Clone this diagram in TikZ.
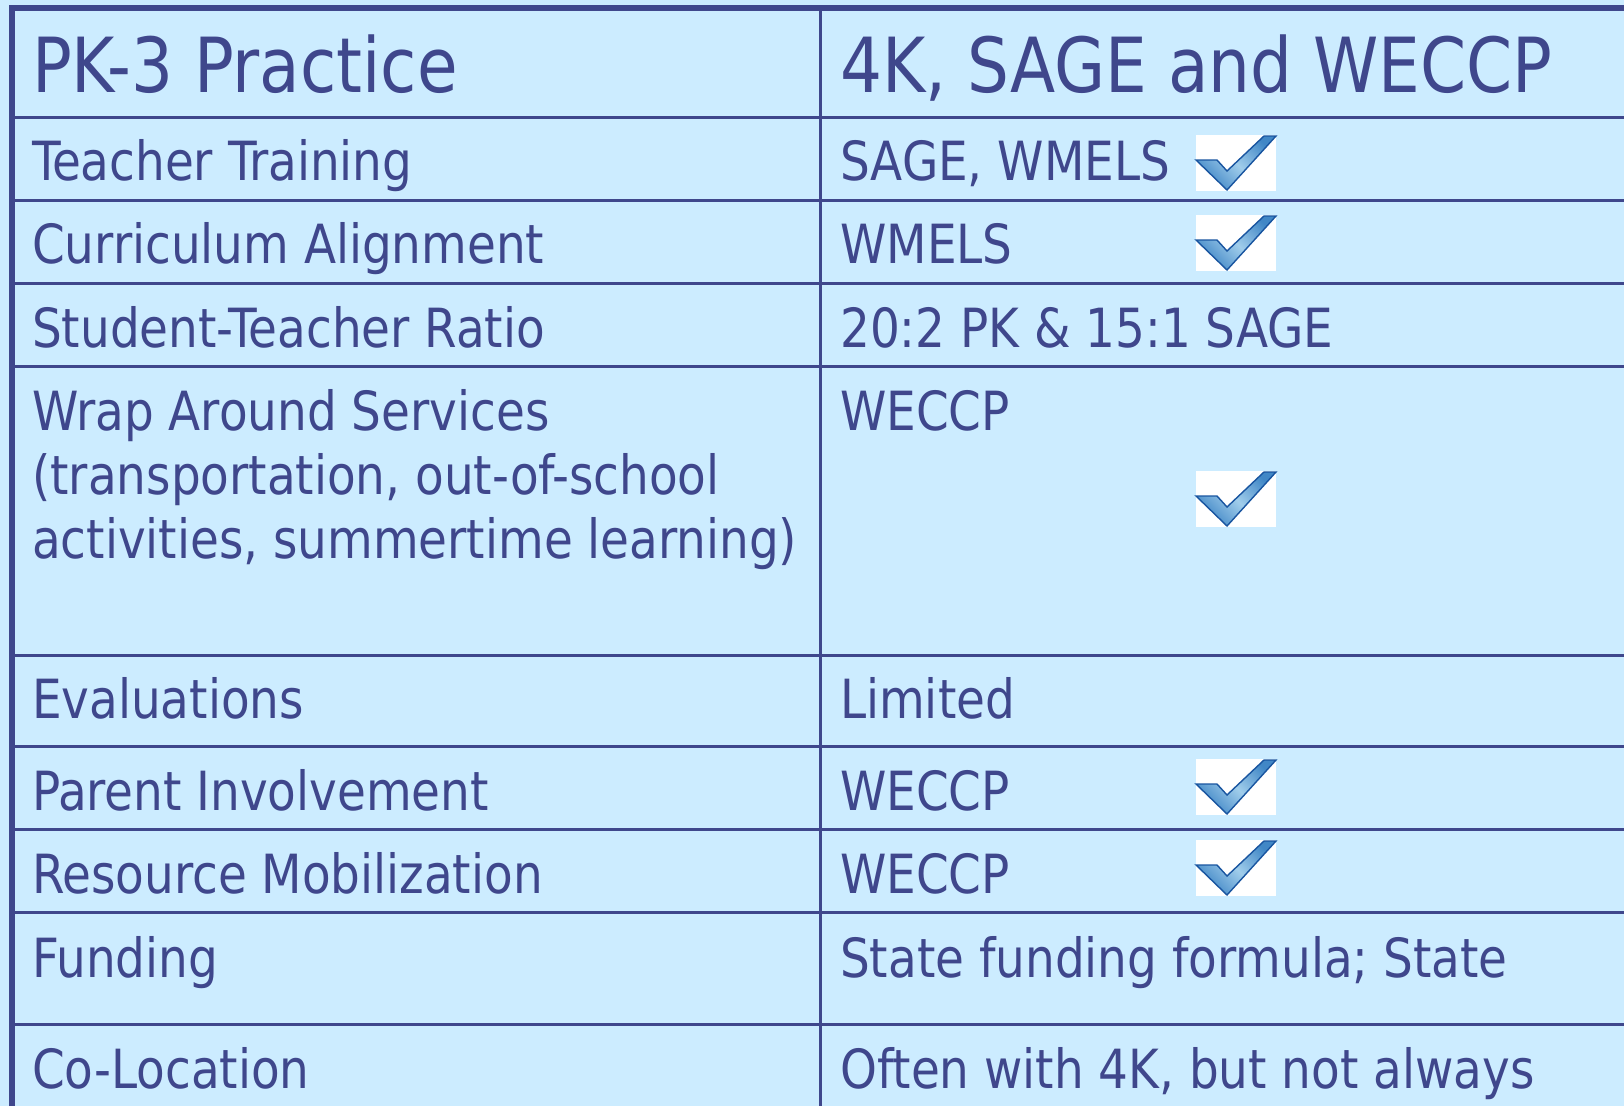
\documentclass[tikz,border=0pt]{standalone}
\usepackage{fontspec}
\setmainfont[FakeStretch=0.965]{DejaVu Sans Condensed}
\definecolor{bgblue}{RGB}{204,236,255}
\definecolor{ink}{RGB}{63,71,140}
\definecolor{chkdark}{RGB}{25,85,160}
\definecolor{chklight}{RGB}{160,205,235}
\definecolor{chkmid}{RGB}{65,135,198}
\tikzset{
  x=1pt,y=-1pt,
  cell/.style={anchor=base west,inner sep=0pt,text=ink,font=\fontsize{54}{64}\selectfont},
  head/.style={anchor=base west,inner sep=0pt,text=ink,font=\fontsize{76}{90}\selectfont},
  rule/.style={draw=ink,line width=3pt},
  frame/.style={draw=ink,line width=5.5pt},
  chk/.pic={
    \fill[white] (0,0) rectangle (80,56);
    \draw[draw=chkdark,line width=1.4pt,line join=miter,left color=chkmid,right color=chkmid,middle color=chklight,shading angle=135]
      (0,25) -- (21,25) -- (31,36) -- (68,1) -- (80,1) -- (31,55) -- cycle;
  }
}
\begin{document}
\begin{tikzpicture}
\useasboundingbox (0,0) rectangle (1624,1106);
\fill[bgblue] (0,0) rectangle (1624,1106);
% grid
\coordinate (tl) at (12,8);
\coordinate (tr) at (1624,8);
\coordinate (bl) at (12,1106);
\foreach \yy in {117,200,283,366,655,746,829,912,1024}
  \draw[rule] (12,\yy) -- (1624,\yy);
\draw[rule] (820,8) -- (820,1106);
\draw[frame] (bl) -- (tl) -- (tr);
% header
\node[head] (h1) at (32,92) {PK-3 Practice};
\node[head] (h2) at (840,92) {4K, SAGE and WECCP};
% left column
\node[cell] (l1) at (32,180) {Teacher Training};
\node[cell] (l2) at (32,263) {Curriculum Alignment};
\node[cell] (l3) at (32,347) {Student-Teacher Ratio};
\node[cell] (l4a) at (32,430) {Wrap Around Services};
\node[cell] (l4b) at (32,494) {(transportation, out-of-school};
\node[cell] (l4c) at (32,558) {activities, summertime learning)};
\node[cell] (l5) at (32,718) {Evaluations};
\node[cell] (l6) at (32,810) {Parent Involvement};
\node[cell] (l7) at (32,893) {Resource Mobilization};
\node[cell] (l8) at (32,977) {Funding};
\node[cell] (l9) at (32,1088) {Co-Location};
% right column
\node[cell] (r1) at (840,180) {SAGE, WMELS};
\node[cell] (r2) at (840,263) {WMELS};
\node[cell] (r3) at (840,347) {20:2 PK \& 15:1 SAGE};
\node[cell] (r4) at (840,430) {WECCP};
\node[cell] (r5) at (840,718) {Limited};
\node[cell] (r6) at (840,810) {WECCP};
\node[cell] (r7) at (840,893) {WECCP};
\node[cell] (r8) at (840,977) {State funding formula; State};
\node[cell] (r9) at (840,1088) {Often with 4K, but not always};
% checks
\pic (c1) at (1196,135) {chk};
\pic (c2) at (1196,215) {chk};
\pic (c3) at (1196,471) {chk};
\pic (c4) at (1196,759) {chk};
\pic (c5) at (1196,840) {chk};
\end{tikzpicture}
\end{document}
